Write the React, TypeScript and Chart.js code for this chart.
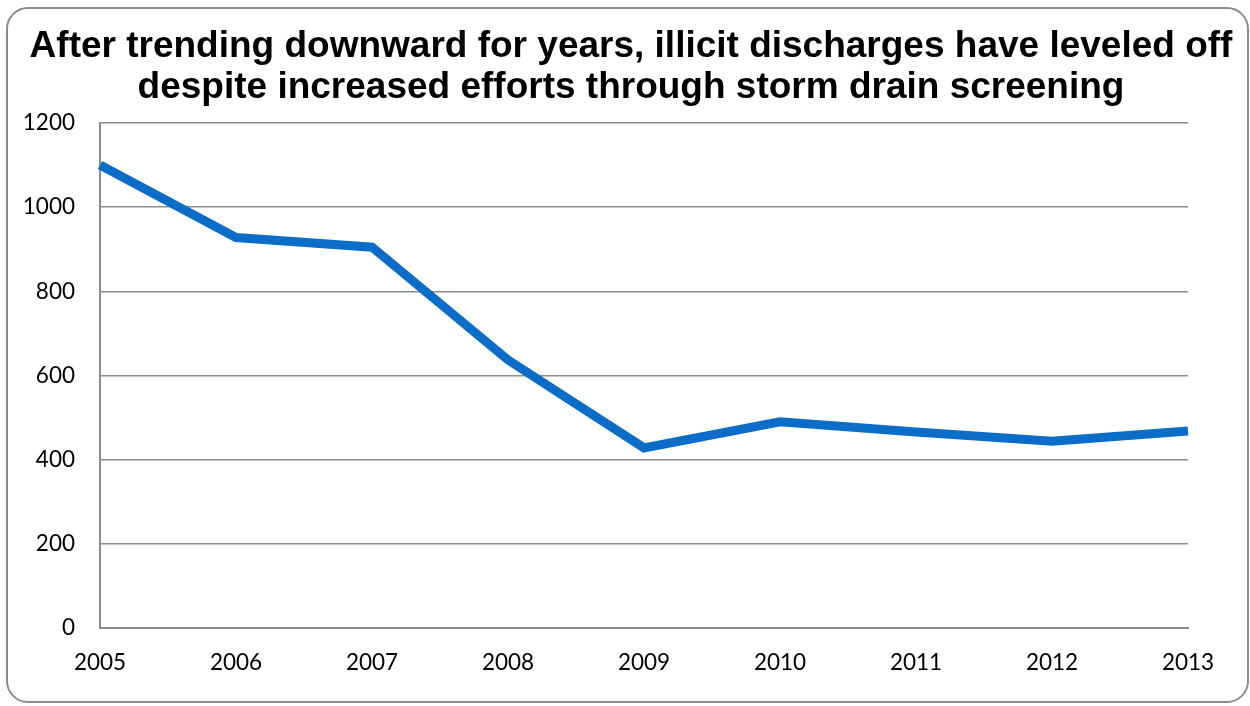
import React, { useEffect, useRef } from "react";
import { Chart, registerables } from "chart.js";

Chart.register(...registerables);

const years = ["2005", "2006", "2007", "2008", "2009", "2010", "2011", "2012", "2013"];
const discharges = [1100, 928, 905, 637, 428, 490, 466, 444, 468];
const titleLines = [
  "After trending downward for years, illicit discharges have leveled off",
  "despite increased efforts through storm drain screening",
];

const titlePlugin = {
  id: "customTitle",
  afterDraw(chart: any) {
    const c = chart.ctx;
    c.save();
    c.fillStyle = "#000";
    c.font = "bold 37px 'Liberation Sans', Arial, sans-serif";
    c.textAlign = "center";
    c.textBaseline = "middle";
    c.fillText(titleLines[0], 631, 47);
    c.fillText(titleLines[1], 631, 88);
    c.restore();
  },
};

export default function App() {
  const ref = useRef<HTMLCanvasElement | null>(null);

  useEffect(() => {
    document.body.style.margin = "0";
    const ctx = ref.current!;
    const chart = new Chart(ctx, {
      type: "line",
      data: {
        labels: years,
        datasets: [
          {
            data: discharges,
            borderColor: "#0b6dc7",
            borderWidth: 9,
            pointRadius: 0,
            tension: 0,
            fill: false,
          },
        ],
      },
      plugins: [titlePlugin],
      options: {
        responsive: false,
        animation: false,
        layout: { padding: { left: 0, right: 62, top: 123, bottom: 0 } },
        plugins: {
          legend: { display: false },
          tooltip: { enabled: false },
          title: { display: false },
        },
        scales: {
          x: {
            offset: false,
            grid: { display: false, drawTicks: false },
            border: { display: true, color: "#8c8c8c", width: 2 },
            ticks: {
              color: "#000",
              font: { family: "Lato, 'Open Sans', sans-serif", size: 22.5 },
              padding: 21,
              maxRotation: 0,
              autoSkip: false,
            },
            afterFit: (s: any) => {
              s.height = 78;
            },
          },
          y: {
            min: 0,
            max: 1200,
            grid: { color: "#8c8c8c", lineWidth: 1.5, drawTicks: false },
            border: { display: true, color: "#8c8c8c", width: 2 },
            ticks: {
              stepSize: 200,
              color: "#000",
              font: { family: "Lato, 'Open Sans', sans-serif", size: 22.5 },
              padding: 25,
              callback: (v: any) => String(v),
            },
            afterFit: (s: any) => {
              s.width = 100;
            },
          },
        },
      },
    });
    return () => chart.destroy();
  }, []);

  return (
    <div style={{ position: "relative", width: 1250, height: 706, overflow: "hidden", background: "#fff" }}>
      <div
        style={{
          position: "absolute",
          left: 6,
          top: 7,
          width: 1243,
          height: 696,
          border: "2px solid #8c8c8c",
          borderRadius: 22,
          boxSizing: "border-box",
        }}
      />
      <canvas ref={ref} width={1250} height={706} style={{ position: "absolute", left: 0, top: 0 }} />
    </div>
  );
}
